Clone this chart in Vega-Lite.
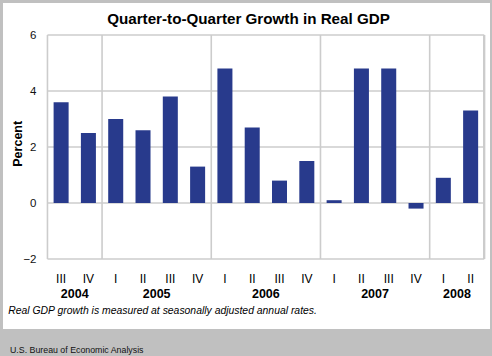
{
  "$schema": "https://vega.github.io/schema/vega-lite/v6.json",
  "width": 487,
  "height": 326,
  "autosize": {"type": "none"},
  "padding": {"left": 3, "top": 3, "right": 2, "bottom": 27},
  "background": "#c0c0c0",
  "config": {
    "font": "Liberation Sans",
    "view": {"fill": "white", "stroke": null}
  },
  "title": {
    "text": "U.S. Bureau of Economic Analysis",
    "orient": "bottom",
    "anchor": "start",
    "frame": "group",
    "offset": 23.7,
    "dx": 7,
    "baseline": "alphabetic",
    "fontSize": 8.8,
    "fontWeight": "normal",
    "color": "#111111"
  },
  "datasets": {
    "gdp": [
      {"q": "2004 III", "growth": 3.6},
      {"q": "2004 IV", "growth": 2.5},
      {"q": "2005 I", "growth": 3.0},
      {"q": "2005 II", "growth": 2.6},
      {"q": "2005 III", "growth": 3.8},
      {"q": "2005 IV", "growth": 1.3},
      {"q": "2006 I", "growth": 4.8},
      {"q": "2006 II", "growth": 2.7},
      {"q": "2006 III", "growth": 0.8},
      {"q": "2006 IV", "growth": 1.5},
      {"q": "2007 I", "growth": 0.1},
      {"q": "2007 II", "growth": 4.8},
      {"q": "2007 III", "growth": 4.8},
      {"q": "2007 IV", "growth": -0.2},
      {"q": "2008 I", "growth": 0.9},
      {"q": "2008 II", "growth": 3.3}
    ],
    "grid": [
      {"v": -2, "from": "2004 III", "to": "2008 II"},
      {"v": 0, "from": "2004 III", "to": "2008 II"},
      {"v": 2, "from": "2004 III", "to": "2008 II"},
      {"v": 4, "from": "2004 III", "to": "2008 II"},
      {"v": 6, "from": "2004 III", "to": "2008 II"}
    ],
    "bounds": [
      {"q": "2004 III"},
      {"q": "2005 I"},
      {"q": "2006 I"},
      {"q": "2007 I"},
      {"q": "2008 I"}
    ],
    "years": [
      {"year": "2004", "q": "2004 III"},
      {"year": "2005", "q": "2005 II"},
      {"year": "2006", "q": "2006 II"},
      {"year": "2007", "q": "2007 II"},
      {"year": "2008", "q": "2008 I"}
    ],
    "heading": [{"label": "Quarter-to-Quarter Growth in Real GDP"}],
    "note": [{"label": "Real GDP growth is measured at seasonally adjusted annual rates."}]
  },
  "layer": [
    {
      "data": {"name": "grid"},
      "mark": {"type": "rule", "color": "#cccccc", "strokeWidth": 1.3},
      "encoding": {
        "x": {
          "field": "from",
          "type": "ordinal",
          "bandPosition": 0,
          "scale": {"type": "band", "paddingInner": 0, "paddingOuter": 0.919, "align": 0.886},
          "axis": {
            "title": null,
            "labelExpr": "split(datum.label, ' ')[1]",
            "labelAngle": 0,
            "labelFontSize": 12,
            "labelColor": "#000000",
            "labelBaseline": "alphabetic",
            "labelPadding": 0,
            "ticks": false,
            "tickSize": 0,
            "domain": false,
            "grid": false,
            "offset": -47
          }
        },
        "x2": {"field": "to", "bandPosition": 1},
        "y": {
          "field": "v",
          "type": "quantitative",
          "scale": {"domain": [-4.5, 7.1429], "nice": false, "zero": false},
          "axis": {
            "title": "Percent",
            "titleFontSize": 12.5,
            "titleFontWeight": "bold",
            "titleColor": "#000000",
            "titleAngle": -90,
            "titleX": -19,
            "titleY": 140.3,
            "titleAlign": "center",
            "titleBaseline": "middle",
            "values": [-2, 0, 2, 4, 6],
            "labelFontSize": 11.5,
            "labelColor": "#111111",
            "labelPadding": 0,
            "labelBaseline": "middle",
            "ticks": false,
            "tickSize": 0,
            "domain": false,
            "grid": false,
            "offset": -33
          }
        }
      }
    },
    {
      "data": {"name": "bounds"},
      "mark": {"type": "rule", "color": "#cccccc", "strokeWidth": 1.6},
      "encoding": {
        "x": {"field": "q", "type": "ordinal", "bandPosition": 0},
        "y": {"datum": -2, "type": "quantitative"},
        "y2": {"datum": 6}
      }
    },
    {
      "data": {"name": "bounds"},
      "mark": {"type": "rule", "color": "#cccccc", "strokeWidth": 1.6},
      "encoding": {
        "x": {"datum": "2008 II", "type": "ordinal", "bandPosition": 1},
        "y": {"datum": -2, "type": "quantitative"},
        "y2": {"datum": 6}
      }
    },
    {
      "data": {"name": "gdp"},
      "mark": {"type": "bar", "color": "#283a8c", "width": {"band": 0.55}},
      "encoding": {
        "x": {"field": "q", "type": "ordinal"},
        "y": {"field": "growth", "type": "quantitative"},
        "y2": {"datum": 0}
      }
    },
    {
      "data": {"name": "years"},
      "mark": {"type": "text", "fontSize": 12.5, "fontWeight": "bold", "baseline": "alphabetic", "align": "center", "color": "#000000"},
      "encoding": {
        "x": {"field": "q", "type": "ordinal", "bandPosition": 1},
        "y": {"datum": -3.393, "type": "quantitative"},
        "text": {"field": "year"}
      }
    },
    {
      "data": {"name": "heading"},
      "mark": {"type": "text", "fontSize": 15.2, "fontWeight": "bold", "baseline": "alphabetic", "align": "center", "dx": 2, "color": "#000000"},
      "encoding": {
        "y": {"datum": 6.393, "type": "quantitative"},
        "text": {"field": "label"}
      }
    },
    {
      "data": {"name": "note"},
      "mark": {"type": "text", "fontSize": 10.4, "fontStyle": "italic", "baseline": "alphabetic", "align": "left", "dx": -39.2, "color": "#000000"},
      "encoding": {
        "x": {"datum": "2004 III", "type": "ordinal", "bandPosition": 0},
        "y": {"datum": -3.975, "type": "quantitative"},
        "text": {"field": "label"}
      }
    }
  ]
}
